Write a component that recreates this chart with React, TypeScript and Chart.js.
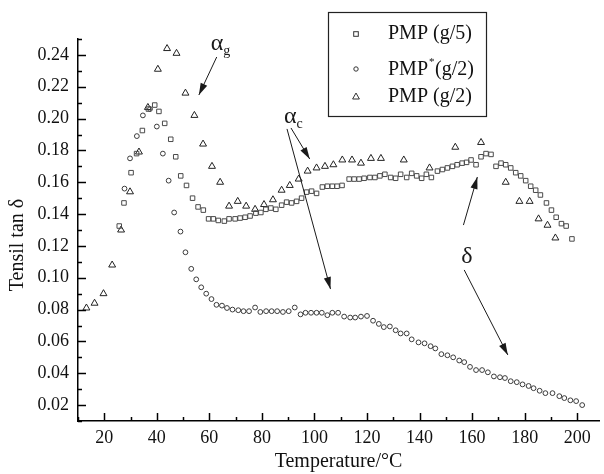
import React, { useEffect, useRef } from 'react';
import { Chart, registerables } from 'chart.js';

Chart.register(...registerables);

const FONT = "'Liberation Serif', 'Times New Roman', serif";

// ---- PMP (g/5) : squares ----
const g5Temp = [25.7, 27.5, 30.2, 32.3, 34.5, 36.8, 39.2, 40.8, 43.0, 45.3, 47.2, 49.1, 51.3, 53.6, 55.7, 57.7, 59.7, 61.5, 63.4, 65.7, 67.5, 69.8, 71.7, 73.6, 75.5, 77.7, 79.6, 81.5, 83.4, 85.3, 87.5, 89.4, 91.3, 93.2, 95.1, 97.0, 98.9, 100.8, 103.0, 104.9, 106.8, 108.6, 110.5, 113.2, 115.1, 117.0, 118.9, 121.1, 123.0, 124.9, 126.8, 129.0, 130.9, 132.8, 135.1, 137.0, 138.9, 140.8, 142.6, 144.5, 146.8, 148.7, 150.6, 152.5, 154.3, 156.2, 157.9, 159.6, 161.5, 163.4, 165.3, 167.2, 169.1, 171.0, 172.8, 174.7, 176.6, 178.5, 180.4, 182.3, 184.2, 186.0, 188.3, 190.2, 192.0, 194.0, 195.8, 198.0];
const g5Tan = [0.1325, 0.147, 0.166, 0.178, 0.1925, 0.206, 0.2085, 0.2045, 0.197, 0.187, 0.176, 0.164, 0.158, 0.150, 0.1445, 0.1425, 0.137, 0.137, 0.136, 0.1356, 0.137, 0.137, 0.1375, 0.138, 0.1388, 0.1406, 0.141, 0.143, 0.1438, 0.143, 0.1456, 0.1475, 0.147, 0.148, 0.150, 0.1538, 0.1544, 0.153, 0.157, 0.1575, 0.1575, 0.1575, 0.158, 0.162, 0.162, 0.162, 0.1625, 0.163, 0.163, 0.164, 0.165, 0.163, 0.1625, 0.165, 0.163, 0.1656, 0.164, 0.1625, 0.165, 0.163, 0.167, 0.168, 0.169, 0.170, 0.171, 0.172, 0.1725, 0.174, 0.171, 0.176, 0.178, 0.1775, 0.170, 0.172, 0.171, 0.169, 0.166, 0.164, 0.161, 0.1575, 0.155, 0.152, 0.147, 0.1425, 0.138, 0.134, 0.1325, 0.1244];

// ---- PMP* (g/2) : circles ----
const g2sTemp = [27.7, 29.8, 32.4, 34.7, 37.4, 40.0, 42.3, 44.5, 46.6, 49.0, 50.9, 53.1, 55.0, 56.9, 58.8, 60.8, 62.7, 64.8, 66.7, 68.8, 71.0, 73.0, 75.1, 77.4, 79.4, 81.6, 83.7, 85.8, 88.0, 90.2, 92.5, 94.7, 96.6, 98.7, 100.8, 102.8, 104.9, 106.8, 109.0, 111.3, 113.6, 115.5, 117.7, 120.0, 122.3, 124.5, 126.4, 128.7, 130.9, 132.8, 135.1, 137.0, 139.6, 141.9, 144.2, 146.0, 148.3, 150.6, 152.8, 155.1, 157.0, 159.2, 161.5, 163.8, 166.0, 168.3, 170.6, 172.5, 174.7, 177.0, 179.2, 181.5, 183.4, 185.7, 187.9, 190.6, 193.2, 195.1, 197.4, 199.6, 201.9];
const g2sTan = [0.156, 0.175, 0.189, 0.202, 0.206, 0.195, 0.178, 0.161, 0.141, 0.129, 0.116, 0.1056, 0.099, 0.094, 0.090, 0.0866, 0.083, 0.0825, 0.081, 0.080, 0.0796, 0.079, 0.079, 0.0813, 0.0785, 0.079, 0.079, 0.079, 0.0785, 0.079, 0.0813, 0.077, 0.078, 0.078, 0.078, 0.078, 0.0765, 0.078, 0.078, 0.0756, 0.075, 0.075, 0.0756, 0.076, 0.073, 0.071, 0.069, 0.0694, 0.067, 0.065, 0.065, 0.0613, 0.0594, 0.0588, 0.057, 0.0556, 0.052, 0.0513, 0.050, 0.048, 0.047, 0.044, 0.042, 0.042, 0.0406, 0.038, 0.0375, 0.037, 0.035, 0.0344, 0.033, 0.032, 0.0306, 0.029, 0.0275, 0.0275, 0.0256, 0.0244, 0.023, 0.0225, 0.020];

// ---- PMP (g/2) : triangles ----
const g2Temp = [13.2, 16.3, 19.7, 23.0, 26.4, 29.8, 33.2, 36.6, 40.4, 43.9, 47.5, 50.9, 54.3, 57.6, 61.0, 64.1, 67.5, 70.8, 74.0, 77.4, 80.8, 84.2, 87.5, 90.6, 94.0, 97.4, 100.8, 104.0, 107.2, 110.6, 114.3, 117.7, 121.5, 125.3, 134.0, 143.8, 153.6, 163.4, 172.8, 178.0, 181.9, 185.3, 188.7, 191.7];
const g2Tan = [0.081, 0.084, 0.090, 0.108, 0.130, 0.154, 0.179, 0.207, 0.231, 0.244, 0.241, 0.216, 0.202, 0.184, 0.170, 0.160, 0.145, 0.148, 0.145, 0.143, 0.146, 0.149, 0.155, 0.158, 0.162, 0.167, 0.169, 0.170, 0.171, 0.174, 0.174, 0.172, 0.175, 0.175, 0.174, 0.169, 0.182, 0.185, 0.160, 0.148, 0.148, 0.137, 0.133, 0.125];

// ---- axes ----
const xTicks = [20, 40, 60, 80, 100, 120, 140, 160, 180, 200];
const yTicks = [0.02, 0.04, 0.06, 0.08, 0.10, 0.12, 0.14, 0.16, 0.18, 0.20, 0.22, 0.24];
const xTitle = 'Temperature/°C';
const yTitle = 'Tensil tan δ      ';
const legendNames = ['PMP (g/5)', 'PMP', 'PMP (g/2)'];

// annotation anchors in data units [temperature, tan δ]
const alphaGText = [60.5, 0.2431];
const alphaGArrow = [62.8, 0.2387, 56.0, 0.2148];
const alphaCText = [88.4, 0.1972];
const alphaCArrowShort = [91.06, 0.1941, 98.2, 0.1746];
const alphaCArrowLong = [89.55, 0.1935, 106.1, 0.0929];
const deltaText = [155.9, 0.1093];
const deltaArrowUp = [156.7, 0.1331, 162.0, 0.1633];
const deltaArrowDown = [157.0, 0.1049, 173.6, 0.0515];

const toPts = (xs: number[], ys: number[]) => xs.map((v, i) => ({ x: v, y: ys[i] }));

const INK = '#1a1a1a';

function arrow(ctx: CanvasRenderingContext2D, x1: number, y1: number, x2: number, y2: number, head = true) {
  ctx.beginPath();
  ctx.moveTo(x1, y1);
  ctx.lineTo(x2, y2);
  ctx.stroke();
  if (!head) return;
  const a = Math.atan2(y2 - y1, x2 - x1);
  const L = 12, W = 3.6;
  const bx = x2 - L * Math.cos(a), by = y2 - L * Math.sin(a);
  ctx.beginPath();
  ctx.moveTo(x2, y2);
  ctx.lineTo(bx + W * Math.sin(a), by - W * Math.cos(a));
  ctx.lineTo(bx - W * Math.sin(a), by + W * Math.cos(a));
  ctx.closePath();
  ctx.fill();
}

const decorPlugin = {
  id: 'decor',
  afterDraw(chart: any) {
    const { ctx, chartArea: ca, scales } = chart;
    const xs = scales.x, ys = scales.y;
    const X = (v: number) => xs.getPixelForValue(v);
    const Y = (v: number) => ys.getPixelForValue(v);
    ctx.save();
    ctx.strokeStyle = '#000';
    ctx.fillStyle = '#000';
    ctx.lineWidth = 1.5;
    // inward tick marks (major + minor)
    for (let i = 1; i <= 25; i++) {
      const py = Math.round(Y(i / 100)) + 0.5;
      const len = i % 2 === 0 ? 8 : 4;
      ctx.beginPath();
      ctx.moveTo(ca.left, py);
      ctx.lineTo(ca.left + len, py);
      ctx.stroke();
    }
    for (let t = 10; t <= 200; t += 10) {
      const px = Math.round(X(t)) + 0.5;
      const len = t % 20 === 0 ? 8 : 4;
      ctx.beginPath();
      ctx.moveTo(px, ca.bottom);
      ctx.lineTo(px, ca.bottom - len);
      ctx.stroke();
    }

    // annotations
    ctx.lineWidth = 1;
    ctx.strokeStyle = INK;
    ctx.fillStyle = INK;
    ctx.textBaseline = 'alphabetic';
    ctx.textAlign = 'left';
    ctx.font = `24px ${FONT}`;
    ctx.fillText('α', X(alphaGText[0]), Y(alphaGText[1]));
    const wa = ctx.measureText('α').width;
    ctx.fillText('α', X(alphaCText[0]), Y(alphaCText[1]));
    ctx.font = `14px ${FONT}`;
    ctx.fillText('g', X(alphaGText[0]) + wa, Y(alphaGText[1]) + 5);
    ctx.fillText('c', X(alphaCText[0]) + wa, Y(alphaCText[1]) + 5);
    ctx.font = `24px ${FONT}`;
    ctx.fillText('δ', X(deltaText[0]), Y(deltaText[1]));

    const arr = (a: number[]) => arrow(ctx, X(a[0]), Y(a[1]), X(a[2]), Y(a[3]));
    arr(alphaGArrow);
    arr(alphaCArrowShort);
    arr(alphaCArrowLong);
    arr(deltaArrowUp);
    arr(deltaArrowDown);

    // legend box
    const lx = ca.left + 250, ly = 12;
    ctx.strokeStyle = '#222';
    ctx.lineWidth = 1.2;
    ctx.strokeRect(lx + 0.5, ly + 0.5, 158, 104);
    const rows = [34, 70, 97];
    const mx = lx + 28;
    ctx.strokeStyle = '#333';
    ctx.lineWidth = 1;
    // square
    ctx.strokeRect(mx - 2.3, rows[0] - 2.3, 4.6, 4.6);
    // circle
    ctx.beginPath();
    ctx.arc(mx, rows[1] - 1, 2.2, 0, Math.PI * 2);
    ctx.stroke();
    // triangle
    ctx.beginPath();
    ctx.moveTo(mx, rows[2] - 4);
    ctx.lineTo(mx + 3.4, rows[2] + 2);
    ctx.lineTo(mx - 3.4, rows[2] + 2);
    ctx.closePath();
    ctx.stroke();

    ctx.fillStyle = '#111';
    ctx.textBaseline = 'middle';
    ctx.font = `20px ${FONT}`;
    const tx = lx + 60;
    ctx.fillText(legendNames[0], tx, rows[0]);
    ctx.fillText(legendNames[1], tx, rows[1]);
    const wp = ctx.measureText(legendNames[1]).width;
    ctx.fillText('(g/2)', tx + wp + 7, rows[1]);
    ctx.font = `11px ${FONT}`;
    ctx.fillText('*', tx + wp + 1, rows[1] - 8);
    ctx.font = `20px ${FONT}`;
    ctx.fillText(legendNames[2], tx, rows[2]);
    ctx.restore();
  },
};

export default function App() {
  const ref = useRef<HTMLCanvasElement | null>(null);
  useEffect(() => {
    if (!ref.current) return;
    Chart.defaults.font.family = FONT;
    const common = { showLine: false, borderColor: '#3a3a3a', backgroundColor: 'rgba(0,0,0,0)', borderWidth: 1 };
    const chart = new Chart(ref.current, {
      type: 'scatter',
      data: {
        datasets: [
          { ...common, label: 'PMP (g/5)', data: toPts(g5Temp, g5Tan), pointStyle: 'rect', pointRadius: 3.2, borderColor: '#4a4a4a' },
          { ...common, label: 'PMP* (g/2)', data: toPts(g2sTemp, g2sTan), pointStyle: 'circle', pointRadius: 2.4 },
          { ...common, label: 'PMP (g/2)', data: toPts(g2Temp, g2Tan), pointStyle: 'triangle', pointRadius: 4, borderColor: '#222' },
        ],
      },
      options: {
        animation: false,
        responsive: true,
        maintainAspectRatio: false,
        devicePixelRatio: 1,
        layout: { padding: { top: 39, right: 0, bottom: 0, left: 0 } },
        plugins: { legend: { display: false }, tooltip: { enabled: false }, title: { display: false } },
        scales: {
          x: {
            type: 'linear',
            min: 10,
            max: 208.3,
            afterBuildTicks: (s: any) => { s.ticks = xTicks.map((v) => ({ value: v })); },
            afterFit: (s: any) => { s.height = 53; },
            ticks: { autoSkip: false, maxRotation: 0, padding: 6, color: '#111', font: { size: 18, family: FONT }, callback: (v: any) => String(v) },
            grid: { display: false, drawTicks: false },
            border: { display: true, color: '#000', width: 1.5 },
            title: { display: true, text: xTitle, color: '#111', font: { size: 20, family: FONT }, padding: { top: 0, bottom: 0 } },
          },
          y: {
            type: 'linear',
            min: 0.01,
            max: 0.25,
            afterBuildTicks: (s: any) => { s.ticks = yTicks.map((v) => ({ value: v })); },
            afterFit: (s: any) => { s.width = 78; },
            ticks: { autoSkip: false, padding: 9, color: '#111', font: { size: 18, family: FONT }, callback: (v: any) => Number(v).toFixed(2) },
            grid: { display: false, drawTicks: false },
            border: { display: true, color: '#000', width: 1.5 },
            title: { display: true, text: yTitle, color: '#111', font: { size: 20, family: FONT }, padding: { top: 6, bottom: 0 } },
          },
        },
      },
      plugins: [decorPlugin],
    } as any);
    return () => chart.destroy();
  }, []);
  return (
    <div style={{ position: 'absolute', left: 0, top: 0, width: 604, height: 474, background: '#fff' }}>
      <canvas ref={ref} />
    </div>
  );
}
